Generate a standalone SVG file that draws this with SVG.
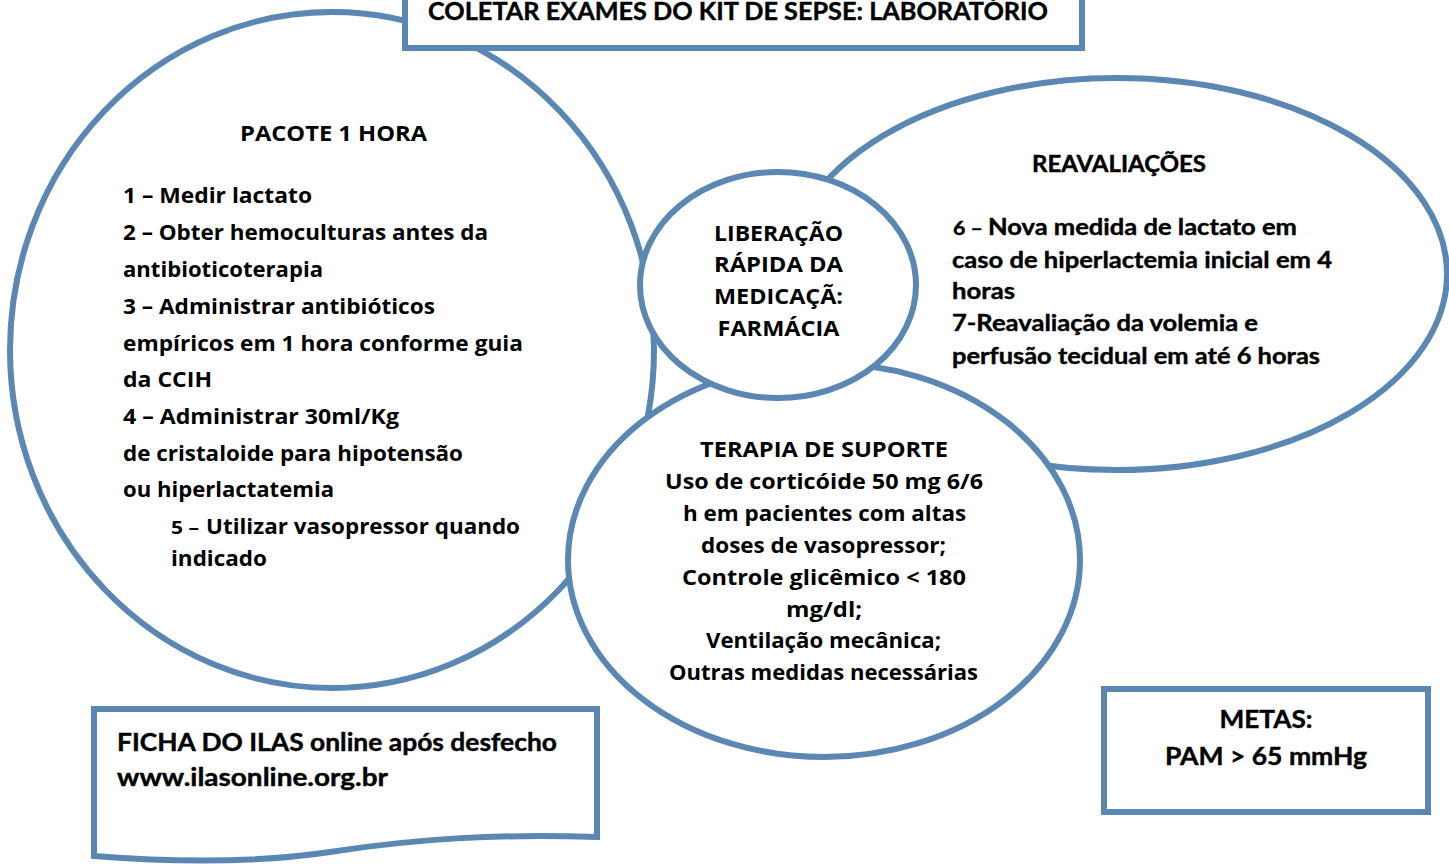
<svg xmlns="http://www.w3.org/2000/svg" width="1449" height="864" viewBox="0 0 1449 864">
<style>
.sh{fill:#ffffff;stroke:#5b87b3;stroke-width:6}
.t{font-family:"Open Sans","Noto Sans","DejaVu Sans",sans-serif;font-weight:bold;font-size:22px;fill:#000}
.c{font-family:Lato,"Liberation Sans",sans-serif;font-weight:bold;font-size:22px;fill:#000;stroke:#000;stroke-width:0.4}
.m{text-anchor:middle}
.s{font-size:18px}
</style>
<rect width="1449" height="864" fill="#ffffff"/>
<g id="connectors"/>
<g id="pacote">
<ellipse class="sh" cx="332" cy="350" rx="322" ry="338"/>
<text class="t m" x="333.5" y="141" textLength="187" lengthAdjust="spacingAndGlyphs">PACOTE 1 HORA</text>
<text class="t" x="123" y="203" textLength="189" lengthAdjust="spacingAndGlyphs">1 – Medir lactato</text>
<text class="t" x="123" y="240" textLength="365" lengthAdjust="spacingAndGlyphs">2 – Obter hemoculturas antes da</text>
<text class="t" x="123" y="277" textLength="200" lengthAdjust="spacingAndGlyphs">antibioticoterapia</text>
<text class="t" x="123" y="314" textLength="312" lengthAdjust="spacingAndGlyphs">3 – Administrar antibióticos</text>
<text class="t" x="123" y="351" textLength="400" lengthAdjust="spacingAndGlyphs">empíricos em 1 hora conforme guia</text>
<text class="t" x="123" y="387" textLength="89" lengthAdjust="spacingAndGlyphs">da CCIH</text>
<text class="t" x="123" y="424" textLength="276" lengthAdjust="spacingAndGlyphs">4 – Administrar 30ml/Kg</text>
<text class="t" x="123" y="461" textLength="340" lengthAdjust="spacingAndGlyphs">de cristaloide para hipotensão</text>
<text class="t" x="123" y="497" textLength="211" lengthAdjust="spacingAndGlyphs">ou hiperlactatemia</text>
<text class="t" x="171" y="534"><tspan class="s" textLength="28" lengthAdjust="spacingAndGlyphs">5 –</tspan> <tspan x="206" textLength="314" lengthAdjust="spacingAndGlyphs">Utilizar vasopressor quando</tspan></text>
<text class="t" x="171" y="566" textLength="96" lengthAdjust="spacingAndGlyphs">indicado</text>
</g>
<g id="reavaliacoes">
<ellipse class="sh" cx="1117" cy="274" rx="330" ry="196"/>
<text class="c m" x="1119" y="172" textLength="174" lengthAdjust="spacingAndGlyphs">REAVALIAÇÕES</text>
<text class="c" x="953" y="235"><tspan class="s" textLength="30" lengthAdjust="spacingAndGlyphs">6 –</tspan> <tspan x="988" textLength="309" lengthAdjust="spacingAndGlyphs">Nova medida de lactato em</tspan></text>
<text class="c" x="952" y="268" textLength="380" lengthAdjust="spacingAndGlyphs">caso de hiperlactemia inicial em 4</text>
<text class="c" x="952" y="299" textLength="63" lengthAdjust="spacingAndGlyphs">horas</text>
<text class="c" x="952" y="331" textLength="306" lengthAdjust="spacingAndGlyphs">7-Reavaliação da volemia e</text>
<text class="c" x="952" y="364" textLength="368" lengthAdjust="spacingAndGlyphs">perfusão tecidual em até 6 horas</text>
</g>
<g id="terapia">
<ellipse class="sh" cx="824" cy="560" rx="256" ry="197"/>
<text class="t m" x="824" y="457" textLength="248" lengthAdjust="spacingAndGlyphs">TERAPIA DE SUPORTE</text>
<text class="t m" x="824" y="489" textLength="318" lengthAdjust="spacingAndGlyphs">Uso de corticóide 50 mg 6/6</text>
<text class="t m" x="824.5" y="521" textLength="283" lengthAdjust="spacingAndGlyphs">h em pacientes com altas</text>
<text class="t m" x="823.5" y="553" textLength="245" lengthAdjust="spacingAndGlyphs">doses de vasopressor;</text>
<text class="t m" x="824" y="585" textLength="284" lengthAdjust="spacingAndGlyphs">Controle glicêmico &lt; 180</text>
<text class="t m" x="824" y="617" textLength="76" lengthAdjust="spacingAndGlyphs">mg/dl;</text>
<text class="t m" x="823.5" y="648" textLength="235" lengthAdjust="spacingAndGlyphs">Ventilação mecânica;</text>
<text class="t m" x="823.5" y="680" textLength="309" lengthAdjust="spacingAndGlyphs">Outras medidas necessárias</text>
</g>
<g id="liberacao">
<ellipse class="sh" cx="778" cy="285" rx="138" ry="113"/>
<text class="t m" x="778.5" y="241" textLength="129" lengthAdjust="spacingAndGlyphs">LIBERAÇÃO</text>
<text class="t m" x="778.5" y="272" textLength="129" lengthAdjust="spacingAndGlyphs">RÁPIDA DA</text>
<text class="t m" x="778.5" y="304" textLength="129" lengthAdjust="spacingAndGlyphs">MEDICAÇÃ:</text>
<text class="t m" x="778.5" y="336" textLength="122" lengthAdjust="spacingAndGlyphs">FARMÁCIA</text>
</g>
<g id="coletar">
<rect class="sh" x="405" y="-10" width="677" height="58"/>
<text class="c" x="428" y="20" textLength="620" lengthAdjust="spacingAndGlyphs" style="font-size:25px">COLETAR EXAMES DO KIT DE SEPSE: LABORATÓRIO</text>
</g>
<g id="ficha">
<path class="sh" d="M94,709 H597 V837 C500,834 420,838 330,852 C250,864 170,862 94,856 Z"/>
<text class="c" x="117" y="751" textLength="440" lengthAdjust="spacingAndGlyphs" style="font-size:24px">FICHA DO ILAS online após desfecho</text>
<text class="c" x="117" y="786" textLength="271" lengthAdjust="spacingAndGlyphs" style="font-size:24px">www.ilasonline.org.br</text>
</g>
<g id="metas">
<rect class="sh" x="1104" y="689" width="324" height="123"/>
<text class="c m" x="1266" y="728" textLength="93" lengthAdjust="spacingAndGlyphs" style="font-size:24px">METAS:</text>
<text class="c m" x="1266" y="765" textLength="202" lengthAdjust="spacingAndGlyphs" style="font-size:24px">PAM &gt; 65 mmHg</text>
</g>
</svg>
